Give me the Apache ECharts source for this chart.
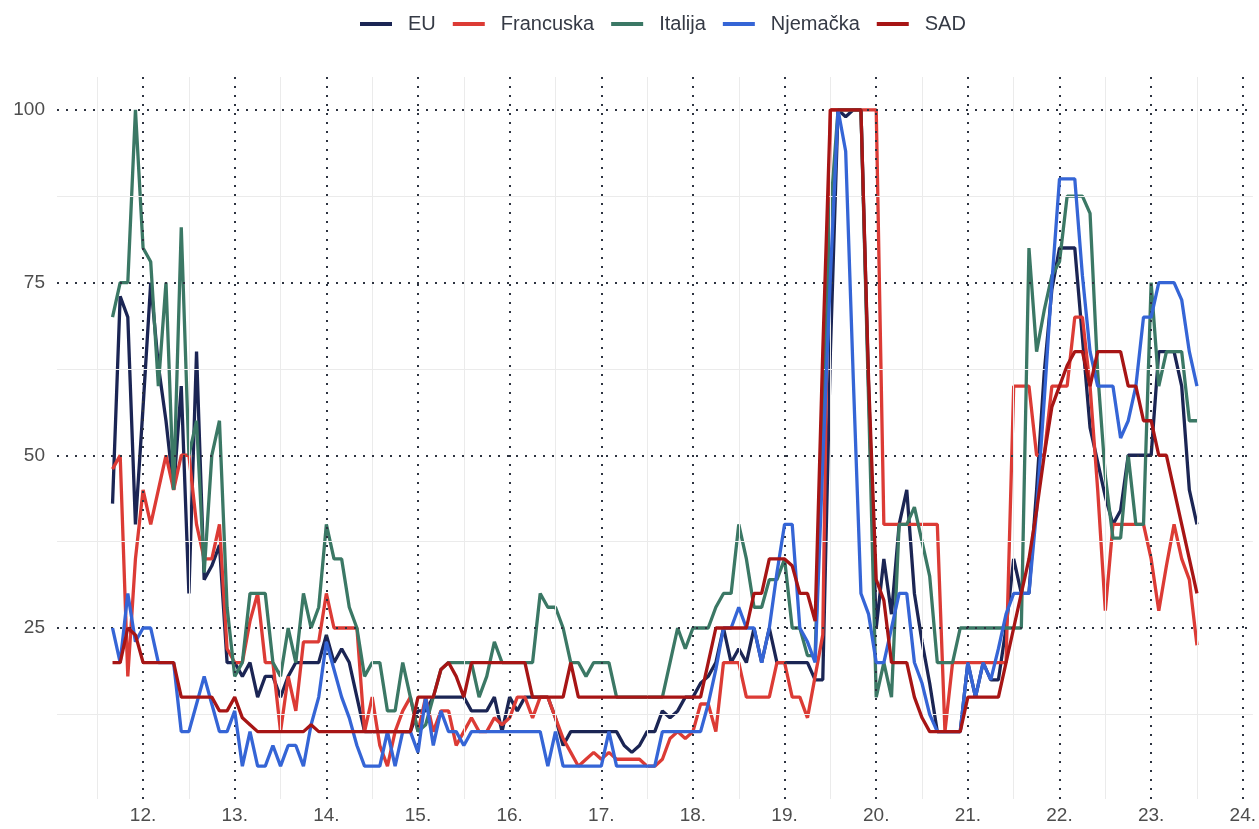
<!DOCTYPE html>
<html>
<head>
<meta charset="utf-8">
<script src="https://cdn.jsdelivr.net/npm/echarts@6/dist/echarts.min.js"></script>
<style>
html,body{margin:0;padding:0;background:#fff;overflow:hidden;}
#chart{width:1259px;height:829px;}
</style>
</head>
<body>
<div id="chart"></div>
<script>
// Monthly index values, September 2011 .. July 2023
const startYear = 2011;
const startMonth = 9;
const seriesNames = ['EU', 'Francuska', 'Italija', 'Njemačka', 'SAD'];
const seriesColors = ['#1b2554', '#dc3b35', '#3b7865', '#3565d6', '#a71515'];

const eu = [
  43, 73, 70, 40, 57, 75, 63, 55, 45, 60,
  30, 65, 32, 34, 37, 20, 20, 18, 20, 15,
  18, 18, 15, 18, 20, 20, 20, 20, 24, 20,
  22, 20, 15, 10, 10, 10, 10, 10, 10, 10,
  13, 13, 15, 15, 15, 15, 15, 13, 13, 13,
  15, 10, 15, 13, 15, 15, 15, 15, 12, 8,
  10, 10, 10, 10, 10, 10, 10, 8, 7, 8,
  10, 10, 13, 12, 13, 15, 15, 17, 18, 20,
  25, 20, 22, 20, 25, 20, 25, 20, 20, 20,
  20, 20, 17.5, 17.5, 65, 100, 99, 100, 100, 60,
  25, 35, 27, 40, 45, 30, 23, 17, 10, 10,
  10, 10, 20, 15, 20, 17.5, 17.5, 25, 35, 30,
  30, 45, 62, 74, 80, 80, 80, 67, 54, 49,
  44, 40, 42, 50, 50, 50, 50, 65, 65, 65,
  60, 45, 40
];
const francuska = [
  48, 50, 18, 35, 45, 40, 45, 50, 45, 50,
  50, 40, 35, 35, 40, 22, 20, 20, 26, 30,
  20, 20, 10, 18, 13, 23, 23, 23, 30, 25,
  25, 25, 25, 10, 15, 8, 5, 10, 13, 15,
  10, 15, 10, 13, 13, 8, 10, 12, 10, 10,
  12, 11, 12, 15, 15, 12, 15, 15, 12, 9,
  7, 5, 6, 7, 6, 7, 6, 6, 6, 6,
  5, 5, 6, 9, 10, 9, 10, 14, 14, 10,
  20, 20, 20, 15, 15, 15, 15, 20, 20, 15,
  15, 12, 18, 24, 100, 100, 100, 100, 100, 100,
  100, 40, 40, 40, 40, 40, 40, 40, 40, 10,
  20, 20, 20, 20, 20, 20, 20, 20, 60, 60,
  60, 50, 50, 60, 60, 60, 70, 70, 60, 45,
  27.5, 40, 40, 40, 40, 40, 35, 27.5, 34, 40,
  35, 32, 22.5
];
const italija = [
  70, 75, 75, 100, 80, 78, 60, 75, 45, 83,
  50, 55, 33, 50, 55, 28, 18, 20, 30, 30,
  30, 20, 18, 25, 20, 30, 25, 28, 40, 35,
  35, 28, 25, 18, 20, 20, 13, 13, 20, 15,
  10, 11, 15, 19, 20, 20, 20, 20, 15, 18,
  23, 20, 20, 20, 20, 20, 30, 28, 28, 25,
  20, 20, 18, 20, 20, 20, 15, 15, 15, 15,
  15, 15, 15, 20, 25, 22, 25, 25, 25, 28,
  30, 30, 40, 35, 28, 28, 32, 32, 35, 25,
  25, 21, 21, 55, 85, 100, 100, 100, 100, 58,
  15, 20, 15, 40, 40, 42.5, 37.5, 32.5, 20, 20,
  20, 25, 25, 25, 25, 25, 25, 25, 25, 25,
  80, 65, 71, 76, 78, 87.5, 87.5, 87.5, 85, 62,
  47, 38, 38, 50, 40, 40, 75, 60, 65, 65,
  65, 55, 55
];
const njemacka = [
  25, 20, 30, 23, 25, 25, 20, 20, 20, 10,
  10, 14, 18, 14, 10, 10, 13, 5, 10, 5,
  5, 8, 5, 8, 8, 5, 11, 15, 23, 19,
  15, 12, 8, 5, 5, 5, 10, 5, 10, 10,
  7, 15, 8, 13, 10, 10, 8, 10, 10, 10,
  10, 10, 10, 10, 10, 10, 10, 5, 10, 5,
  5, 5, 5, 5, 5, 10, 5, 5, 5, 5,
  5, 5, 10, 10, 10, 10, 10, 10, 14, 19,
  25, 25, 28, 25, 25, 20, 25, 33, 40, 40,
  25, 23, 20, 49, 76, 100, 94, 61, 30, 27,
  20, 20, 25, 30, 30, 20, 17, 12.5, 10, 10,
  10, 10, 20, 15, 20, 17.5, 22, 27, 30, 30,
  30, 42, 58, 75, 90, 90, 90, 76, 65, 60,
  60, 60, 52.5, 55, 60, 70, 70, 75, 75, 75,
  72.5, 65, 60
];
const sad = [
  20, 20, 25, 24, 20, 20, 20, 20, 20, 15,
  15, 15, 15, 15, 13, 13, 15, 12, 11, 10,
  10, 10, 10, 10, 10, 10, 11, 10, 10, 10,
  10, 10, 10, 10, 10, 10, 10, 10, 10, 10,
  15, 15, 15, 19, 20, 18, 15, 20, 20, 20,
  20, 20, 20, 20, 20, 15, 15, 15, 15, 15,
  20, 15, 15, 15, 15, 15, 15, 15, 15, 15,
  15, 15, 15, 15, 15, 15, 15, 15, 20, 25,
  25, 25, 25, 25, 30, 30, 35, 35, 35, 34,
  30, 30, 26, 65, 100, 100, 100, 100, 100, 61,
  32, 29, 20, 20, 20, 15, 12, 10, 10, 10,
  10, 10, 15, 15, 15, 15, 15, 20, 25, 30,
  35, 42, 50, 57, 60, 63, 65, 65, 60, 65,
  65, 65, 65, 60, 60, 55, 55, 50, 50, 45,
  40, 35, 30
];

// Axis ticks (year = 2000 + tick, labelled "12." etc.)
const xTicks = [12, 13, 14, 15, 16, 17, 18, 19, 20, 21, 22, 23, 24];
const xTickLabels = ['12.', '13.', '14.', '15.', '16.', '17.', '18.', '19.', '20.', '21.', '22.', '23.', '24.'];
const xMinor = [11.5, 12.5, 13.5, 14.5, 15.5, 16.5, 17.5, 18.5, 19.5, 20.5, 21.5, 22.5, 23.5];
const yTicks = [25, 50, 75, 100];
const yTickLabels = ['25', '50', '75', '100'];
const yMinor = [12.5, 37.5, 62.5, 87.5];

const allValues = [eu, francuska, italija, njemacka, sad];

// time coordinate of each month (fractional year, 2-digit)
function monthX(i) {
  const m = startMonth - 1 + i;
  return (startYear - 2000) + m / 12;
}

const chart = echarts.init(document.getElementById('chart'), null, {renderer: 'canvas'});

const darkGrid = '#2d3340';
const lightGrid = '#ebebeb';
const gridLines = [];
xMinor.forEach(v => gridLines.push({xAxis: v, lineStyle: {color: lightGrid, width: 1, type: 'solid'}}));
yMinor.forEach(v => gridLines.push({yAxis: v, lineStyle: {color: lightGrid, width: 1, type: 'solid'}}));
xTicks.forEach(v => gridLines.push({xAxis: v, lineStyle: {color: darkGrid, width: 2, type: [2, 7]}}));
yTicks.forEach(v => gridLines.push({yAxis: v, lineStyle: {color: darkGrid, width: 2, type: [2, 7]}}));

const series = [{
  name: '_grid',
  type: 'line',
  data: [[12, 50]],
  symbol: 'none',
  lineStyle: {opacity: 0},
  silent: true,
  z: 1,
  markLine: {
    silent: true,
    symbol: ['none', 'none'],
    label: {show: false},
    emphasis: {disabled: true},
    animation: false,
    data: gridLines
  }
}];
seriesNames.forEach((name, k) => {
  series.push({
    name: name,
    type: 'line',
    data: allValues[k].map((v, i) => [monthX(i), v]),
    showSymbol: false,
    symbol: 'none',
    color: seriesColors[k],
    lineStyle: {width: 3.3, color: seriesColors[k]},
    z: 2 + k
  });
});

const fontFamily = '"Liberation Sans", Arial, sans-serif';

chart.setOption({
  animation: false,
  textStyle: {fontFamily: fontFamily},
  legend: {
    data: seriesNames,
    top: 9,
    left: 355,
    icon: 'rect',
    itemWidth: 32,
    itemHeight: 4,
    itemGap: 17,
    textStyle: {fontSize: 20, color: '#353a45', fontFamily: fontFamily, padding: [0, 0, 0, 11]}
  },
  grid: {left: 57, right: 3, top: 77, bottom: 30, containLabel: false},
  xAxis: {
    type: 'value',
    min: 11.0607,
    max: 24.1102,
    axisLine: {show: false},
    axisTick: {show: false},
    splitLine: {show: false},
    minorSplitLine: {show: false},
    axisLabel: {
      customValues: xTicks,
      formatter: function (v) {
        const idx = xTicks.indexOf(Math.round(v * 1000) / 1000);
        return idx >= 0 ? xTickLabels[idx] : '';
      },
      fontSize: 19,
      color: '#4d4d4d',
      margin: 7,
      fontFamily: fontFamily
    }
  },
  yAxis: {
    type: 'value',
    min: 0.25,
    max: 104.75,
    axisLine: {show: false},
    axisTick: {show: false},
    splitLine: {show: false},
    axisLabel: {
      customValues: yTicks,
      formatter: function (v) {
        const idx = yTicks.indexOf(Math.round(v * 1000) / 1000);
        return idx >= 0 ? yTickLabels[idx] : '';
      },
      fontSize: 19,
      color: '#4d4d4d',
      margin: 12,
      fontFamily: fontFamily
    }
  },
  series: series
});
</script>
</body>
</html>
